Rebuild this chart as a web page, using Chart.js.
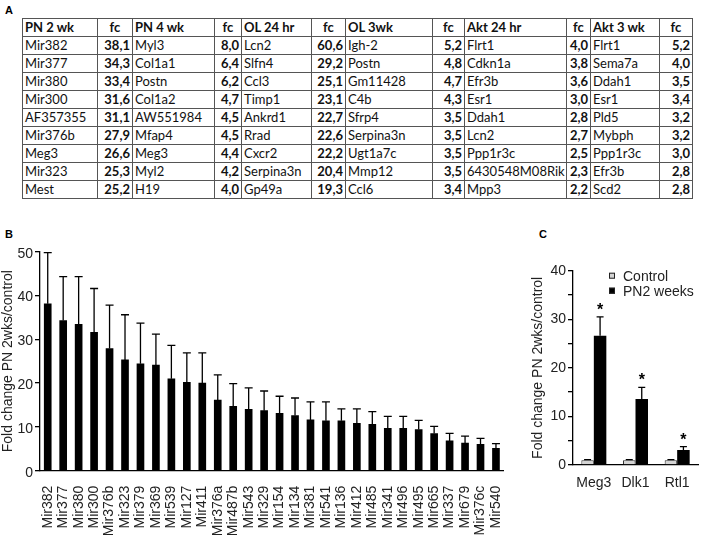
<!DOCTYPE html>
<html>
<head>
<meta charset="utf-8">
<script src="https://cdn.jsdelivr.net/npm/chart.js@4.4.0/dist/chart.umd.min.js"></script>
<style>
  body { margin: 0; width: 708px; height: 535px; background: #fff; position: relative; overflow: hidden; font-family: "Liberation Sans", Arial, sans-serif; }
  .panel { position: absolute; font-weight: bold; font-size: 11px; color: #000; }
  #tableA { position: absolute; left: 22px; top: 18px; width: 670px; border-collapse: collapse; table-layout: fixed; font-family: Lato, sans-serif; font-size: 13px; color: #111; }
  #tableA td { border: 1px solid #555; height: 17px; line-height: 17px; padding: 0 2px; white-space: nowrap; overflow: hidden; }
  #tableA td.fc { text-align: right; font-weight: bold; }
  #tableA tr.head td { font-weight: bold; }
  #tableA tr.head td.fc { text-align: center; }
  .box { position: absolute; }
</style>
</head>
<body>
<div class="panel" style="left:5px; top:4px;">A</div>
<div class="panel" style="left:5px; top:228px;">B</div>
<div class="panel" style="left:539px; top:228px;">C</div>

<table id="tableA">
  <colgroup id="cols"></colgroup>
  <tbody id="tableBody"></tbody>
</table>

<div class="box" style="left:0px; top:240px; width:520px; height:295px;"><canvas id="chartB" width="520" height="295"></canvas></div>
<div class="box" style="left:530px; top:240px; width:178px; height:295px;"><canvas id="chartC" width="178" height="295"></canvas></div>

<script>
// ---- Tabla A: genes más regulados por condición ----
const tableHeaders = ["PN 2 wk", "PN 4 wk", "OL 24 hr", "OL 3wk", "Akt 24 hr", "Akt 3 wk"];
const pn2Genes = ["Mir382", "Mir377", "Mir380", "Mir300", "AF357355", "Mir376b", "Meg3", "Mir323", "Mest"];
const pn2Fc = ["38,1", "34,3", "33,4", "31,6", "31,1", "27,9", "26,6", "25,3", "25,2"];
const pn4Genes = ["Myl3", "Col1a1", "Postn", "Col1a2", "AW551984", "Mfap4", "Meg3", "Myl2", "H19"];
const pn4Fc = ["8,0", "6,4", "6,2", "4,7", "4,5", "4,5", "4,4", "4,2", "4,0"];
const ol24Genes = ["Lcn2", "Slfn4", "Ccl3", "Timp1", "Ankrd1", "Rrad", "Cxcr2", "Serpina3n", "Gp49a"];
const ol24Fc = ["60,6", "29,2", "25,1", "23,1", "22,7", "22,6", "22,2", "20,4", "19,3"];
const ol3Genes = ["Igh-2", "Postn", "Gm11428", "C4b", "Sfrp4", "Serpina3n", "Ugt1a7c", "Mmp12", "Ccl6"];
const ol3Fc = ["5,2", "4,8", "4,7", "4,3", "3,5", "3,5", "3,5", "3,5", "3,4"];
const akt24Genes = ["Flrt1", "Cdkn1a", "Efr3b", "Esr1", "Ddah1", "Lcn2", "Ppp1r3c", "6430548M08Rik", "Mpp3"];
const akt24Fc = ["4,0", "3,8", "3,6", "3,0", "2,8", "2,7", "2,5", "2,3", "2,2"];
const akt3Genes = ["Flrt1", "Sema7a", "Ddah1", "Esr1", "Pld5", "Mybph", "Ppp1r3c", "Efr3b", "Scd2"];
const akt3Fc = ["5,2", "4,0", "3,5", "3,4", "3,2", "3,2", "3,0", "2,8", "2,8"];

// ---- Gráfico B: miRNAs PN 2 semanas ----
const mirLabels = ["Mir382", "Mir377", "Mir380", "Mir300", "Mir376b", "Mir323", "Mir379", "Mir369", "Mir539", "Mir127",
  "Mir411", "Mir376a", "Mir487b", "Mir543", "Mir329", "Mir154", "Mir134", "Mir381", "Mir541", "Mir136",
  "Mir412", "Mir485", "Mir341", "Mir496", "Mir495", "Mir665", "Mir337", "Mir679", "Mir376c", "Mir540"];
const mirFold = [38.1, 34.3, 33.4, 31.6, 27.9, 25.3, 24.4, 24.1, 21.0, 20.2,
  20.0, 16.1, 14.7, 14.0, 13.7, 13.1, 12.6, 11.6, 11.4, 11.4,
  10.8, 10.6, 9.7, 9.7, 9.4, 8.5, 6.8, 6.3, 6.0, 5.1];
const mirErr = [11.7, 10.0, 10.9, 10.0, 9.9, 10.3, 9.3, 7.1, 7.6, 6.7,
  6.9, 5.8, 5.2, 4.9, 4.5, 3.9, 4.0, 4.1, 4.3, 2.7,
  3.3, 2.9, 2.7, 2.7, 2.1, 1.6, 1.7, 1.6, 1.4, 1.1];
const bTicks = [0, 10, 20, 30, 40, 50];

// ---- Gráfico C: Meg3 / Dlk1 / Rtl1 ----
const cLabels = ["Meg3", "Dlk1", "Rtl1"];
const controlFold = [1.0, 1.0, 1.0];
const controlErr = [0.1, 0.1, 0.1];
const pn2Fold = [26.6, 13.6, 3.1];
const pn2Err = [3.9, 2.4, 0.7];
const cTicks = [0, 10, 20, 30, 40];

// construir tabla
const columns = [
  [pn2Genes, pn2Fc], [pn4Genes, pn4Fc], [ol24Genes, ol24Fc],
  [ol3Genes, ol3Fc], [akt24Genes, akt24Fc], [akt3Genes, akt3Fc]
];
const colWidths = [75, 35, 82, 27, 70, 34, 87, 32, 102, 24, 69, 33];
const colgroup = document.getElementById("cols");
colWidths.forEach(w => {
  const c = document.createElement("col");
  c.style.width = w + "px";
  colgroup.appendChild(c);
});
const tbody = document.getElementById("tableBody");
let head = "<tr class='head'>";
tableHeaders.forEach(h => { head += `<td>${h}</td><td class="fc">fc</td>`; });
tbody.innerHTML = head + "</tr>";
for (let r = 0; r < pn2Genes.length; r++) {
  let row = "<tr>";
  columns.forEach(col => { row += `<td>${col[0][r]}</td><td class="fc">${col[1][r]}</td>`; });
  tbody.innerHTML += row + "</tr>";
}

// plugin de barras de error (solo bigote superior)
const errorBars = {
  id: "errorBars",
  afterDatasetsDraw(chart, args, opts) {
    const ctx = chart.ctx;
    const yScale = chart.scales.y;
    ctx.save();
    ctx.strokeStyle = "#000";
    ctx.lineWidth = opts.lineWidth || 1.3;
    chart.data.datasets.forEach((ds, i) => {
      if (!ds.errors) return;
      const meta = chart.getDatasetMeta(i);
      meta.data.forEach((bar, j) => {
        const top = yScale.getPixelForValue(ds.data[j] + ds.errors[j]);
        const half = opts.capHalf || 4;
        ctx.beginPath();
        ctx.moveTo(bar.x, bar.y);
        ctx.lineTo(bar.x, top);
        ctx.moveTo(bar.x - half, top);
        ctx.lineTo(bar.x + half, top);
        ctx.stroke();
        if (ds.stars) {
          ctx.fillStyle = "#000";
          ctx.font = "bold 16px 'Liberation Sans', Arial, sans-serif";
          ctx.textAlign = "center";
          ctx.textBaseline = "alphabetic";
          ctx.fillText("*", bar.x, top - 2);
        }
      });
    });
    ctx.restore();
  }
};

// leyenda propia del gráfico C
const boxLegend = {
  id: "boxLegend",
  afterDraw(chart) {
    const ctx = chart.ctx;
    const area = chart.chartArea;
    ctx.save();
    ctx.font = "14px 'Liberation Sans', Arial, sans-serif";
    ctx.textBaseline = "middle";
    ctx.textAlign = "left";
    chart.data.datasets.forEach((ds, i) => {
      const y = area.top + 5 + i * 15;
      const x = area.left + 36;
      ctx.fillStyle = ds.backgroundColor;
      ctx.fillRect(x, y - 3, 6, 6);
      ctx.strokeStyle = "#222";
      ctx.lineWidth = 1;
      ctx.strokeRect(x + 0.5, y - 2.5, 5, 5);
      ctx.fillStyle = "#222";
      ctx.fillText(ds.label, x + 14, y + 1);
    });
    ctx.restore();
  }
};

const tickFont = { family: "'Liberation Sans', Arial, sans-serif", size: 14 };
Chart.defaults.color = "#222";
Chart.defaults.animation = false;

new Chart(document.getElementById("chartB").getContext("2d"), {
  type: "bar",
  data: {
    labels: mirLabels,
    datasets: [{
      label: "Fold change",
      data: mirFold,
      errors: mirErr,
      backgroundColor: "#000",
      barThickness: 7
    }]
  },
  options: {
    responsive: false,
    devicePixelRatio: 1,
    layout: { padding: { top: 11.7, right: 14, left: 0, bottom: 0 } },
    plugins: { legend: { display: false }, tooltip: { enabled: false }, errorBars: { capHalf: 4 } },
    scales: {
      x: {
        grid: { display: false },
        border: { display: true, color: "#000", width: 1.3 },
        ticks: { font: tickFont, maxRotation: 90, minRotation: 90, autoSkip: false, padding: 7 },
        afterFit: s => { s.height = 64.3; }
      },
      y: {
        min: 0, max: 50,
        afterBuildTicks: s => { s.ticks = bTicks.map(v => ({ value: v })); },
        grid: { drawOnChartArea: false, tickLength: 5, color: "#000", lineWidth: 1.3 },
        border: { display: true, color: "#000", width: 1.3 },
        ticks: { font: tickFont, padding: 2, labelOffset: 2 },
        title: { display: true, text: "Fold change PN 2wks/control", font: tickFont, padding: { top: 0, bottom: 0 } },
        afterFit: s => { s.width = 40; }
      }
    }
  },
  plugins: [errorBars]
});

new Chart(document.getElementById("chartC").getContext("2d"), {
  type: "bar",
  data: {
    labels: cLabels,
    datasets: [{
      label: "Control",
      data: controlFold,
      errors: controlErr,
      backgroundColor: "#d4d4d4",
      borderColor: "#333",
      borderWidth: 1,
      categoryPercentage: 0.6,
      barPercentage: 1
    }, {
      label: "PN2 weeks",
      data: pn2Fold,
      errors: pn2Err,
      stars: true,
      backgroundColor: "#000",
      categoryPercentage: 0.6,
      barPercentage: 1
    }]
  },
  options: {
    responsive: false,
    devicePixelRatio: 1,
    layout: { padding: { top: 30.7, right: 10, left: 0, bottom: 0 } },
    plugins: { legend: { display: false }, tooltip: { enabled: false }, errorBars: { capHalf: 3.5 } },
    scales: {
      x: {
        grid: { display: false },
        border: { display: true, color: "#000", width: 1.3 },
        ticks: { font: tickFont, padding: 2 },
        afterFit: s => { s.height = 70; }
      },
      y: {
        min: 0, max: 40,
        ticks: {
          stepSize: 5,
          font: tickFont,
          padding: 2,
          callback: v => (cTicks.includes(v) ? v : "")
        },
        grid: { drawOnChartArea: false, tickLength: 5, color: "#000", lineWidth: 1.3 },
        border: { display: true, color: "#000", width: 1.3 },
        title: { display: true, text: "Fold change PN 2wks/control", font: tickFont, padding: { top: 0, bottom: 0 } },
        afterFit: s => { s.width = 43; }
      }
    }
  },
  plugins: [errorBars, boxLegend]
});
</script>
</body>
</html>
